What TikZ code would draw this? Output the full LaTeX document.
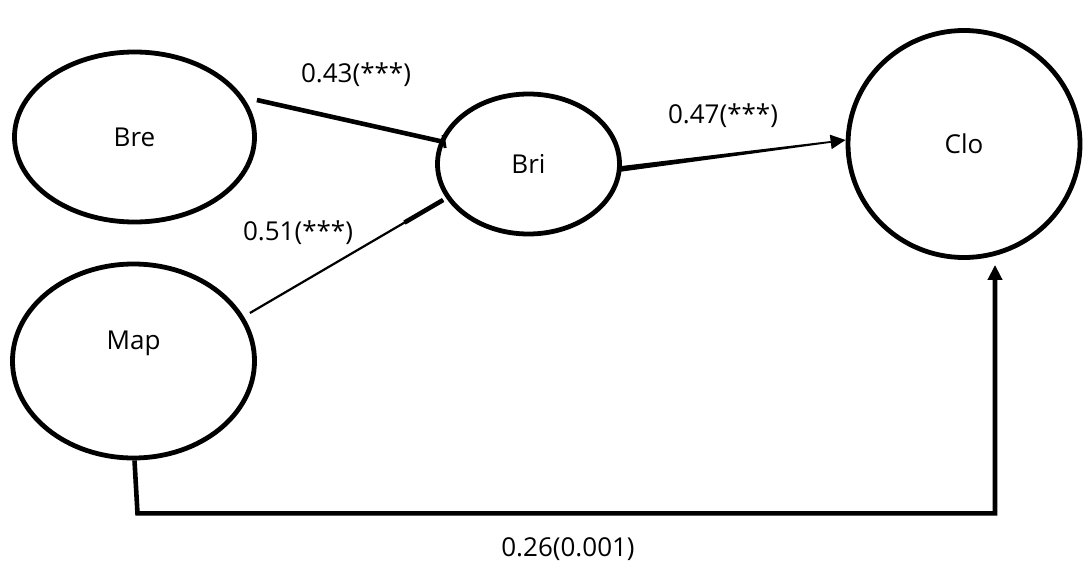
\documentclass[tikz,border=0pt]{standalone}
\usepackage{fontspec}
\setmainfont{Open Sans}
\usetikzlibrary{shapes.geometric,arrows.meta,calc}
\begin{document}
\begin{tikzpicture}[x=1pt,y=-1pt,
  latent/.style={ellipse,draw,line width=4.8pt,inner sep=0pt},
  lbl/.style={font=\fontsize{26}{30}\selectfont},
  path/.style={line width=4.6pt},
  thinpath/.style={line width=2.2pt},
  tip/.style={-{Triangle[length=15pt,width=14pt]}}]
\useasboundingbox (0,0) rectangle (1084,570);
% latent variables
\node[latent,minimum width=240pt,minimum height=170pt] (bre) at (134.5,137) {};
\node[latent,minimum width=242pt,minimum height=194pt] (map) at (133.5,361) {};
\node[latent,minimum width=182pt,minimum height=140pt] (bri) at (528.5,164) {};
\node[latent,minimum width=232pt,minimum height=227pt] (clo) at (964,144) {};
\node[lbl] at (bre) {Bre};
\node[lbl] at ($(map)+(0,-18)$) {Map};
\node[lbl] at (bri) {Bri};
\node[lbl] at (clo) {Clo};
% structural paths
\draw[path] (bre.east) ++(0,-37) coordinate (bre-o) -- ($(bri.west)+(9,-22)$) coordinate (bri-a);
\draw[line width=3pt] ($(bri-a)+(-1,-7)$) -- ($(bri-a)+(1,6)$);
\coordinate (map-o) at ($(map.east)+(-7,-48)$);
\coordinate (bri-b) at ($(bri.west)+(8,36)$);
\draw[thinpath] (map-o) -- (bri-b);
\draw[path] ($(map-o)!0.8!(bri-b)$) -- (bri-b);
% tapered arrow Bri -> Clo
\coordinate (bri-c) at ($(bri.east)+(-2,5)$);
\coordinate (clo-a) at ($(clo.west)+(0,-4)$);
\coordinate (clo-b) at ($(clo-a)!15pt!(bri-c)$);
\fill ($(bri-c)!2.8pt!90:(clo-b)$) -- ($(bri-c)!2.8pt!-90:(clo-b)$)
  -- ($(clo-b)!0.9pt!90:(bri-c)$) -- ($(clo-b)!0.9pt!-90:(bri-c)$) -- cycle;
\draw[thinpath,tip] (clo-b) -- (clo-a);
% Map -> Clo
\coordinate (map-s) at ($(map.south)+(1,0)$);
\coordinate (clo-s) at ($(clo.south)+(31,5)$);
\draw[path,tip] (map-s) -- ++(3,53) coordinate (corner) -| (clo-s);
% coefficients
\node[lbl] at (356,75) {0.43(***)};
\node[lbl] at (723,116) {0.47(***)};
\node[lbl] at (298,233) {0.51(***)};
\node[lbl] at (568,549) {0.26(0.001)};
\end{tikzpicture}
\end{document}
